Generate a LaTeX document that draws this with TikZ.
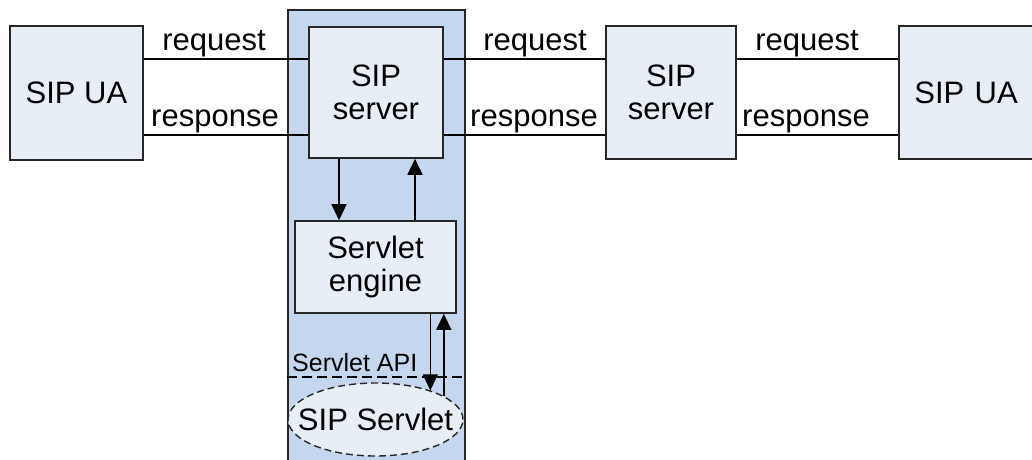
\documentclass[tikz,border=0pt]{standalone}
\usepackage{fontspec}
\setmainfont{Liberation Sans}
\usetikzlibrary{shapes.geometric,arrows.meta}
\definecolor{boxfill}{RGB}{232,238,246}
\definecolor{contfill}{RGB}{197,215,238}
\tikzset{
  box/.style={draw=black!85, line width=1.6pt, fill=boxfill, inner sep=0pt, align=center,
    font=\fontsize{31}{33}\selectfont},
  conn/.style={draw=black, line width=1.6pt},
  arr/.style={conn, -{Triangle[length=16pt,width=15pt]}},
  lbl/.style={font=\fontsize{31}{33}\selectfont, inner sep=0pt, anchor=base},
}
\begin{document}
\begin{tikzpicture}[x=1pt,y=-1pt]
\useasboundingbox (0,0) rectangle (1032,459);
\clip (0,0) rectangle (1032,459);
% container
\node[draw=black!85, line width=1.6pt, fill=contfill, minimum width=177pt, minimum height=480pt, inner sep=0pt, anchor=north west] (cont) at (287,9) {};
% nodes
\node[box, minimum width=133pt, minimum height=134pt] (ua1) at (76.5,93) {SIP UA};
\node[box, minimum width=134pt, minimum height=131pt] (srv1) at (376,92.5) {SIP\\server};
\node[box, minimum width=130pt, minimum height=133pt] (srv2) at (671,92.5) {SIP\\server};
\node[box, minimum width=140pt, minimum height=133pt, text width=133pt] (ua2) at (969,92.5) {\hspace*{-6pt}SIP UA};
\node[box, minimum width=161pt, minimum height=92pt] (eng) at (375.5,267) {Servlet\\engine};
\node[box, shape=ellipse, dashed, dash pattern=on 7pt off 4pt, line width=1.4pt, minimum width=175pt, minimum height=73pt,
  label={[font=\fontsize{31}{33}\selectfont, inner sep=0pt]center:SIP Servlet}] (sv) at (375.5,419.5) {};
% helper coordinates
\coordinate (rq) at (0,59);
\coordinate (rs) at (0,135);
\coordinate (d1) at (339,0);
\coordinate (u1) at (415,0);
% horizontal connectors
\draw[conn] (ua1.east |- rq) -- (srv1.west |- rq);
\draw[conn] (ua1.east |- rs) -- (srv1.west |- rs);
\draw[conn] (srv1.east |- rq) -- (srv2.west |- rq);
\draw[conn] (srv1.east |- rs) -- (srv2.west |- rs);
\draw[conn] (srv2.east |- rq) -- (ua2.west |- rq);
\draw[conn] (srv2.east |- rs) -- (ua2.west |- rs);
% labels
\node[lbl] (l1) at (214,50) {request};
\node[lbl] (l2) at (215,126) {response};
\node[lbl] (l3) at (535,50) {request};
\node[lbl] (l4) at (534,126) {response};
\node[lbl] (l5) at (807,50) {request};
\node[lbl] (l6) at (806,126) {response};
% vertical arrows
\draw[arr] (srv1.south -| d1) -- (eng.north -| d1);
\draw[arr] (eng.north -| u1) -- (srv1.south -| u1);
% Servlet API dashed line
\coordinate (apiL) at (287,377);
\coordinate (apiR) at (464,377);
\draw[conn, line width=1.3pt, dash pattern=on 10pt off 5pt] (apiL) -- (apiR);
\node[font=\fontsize{25}{27}\selectfont, inner sep=0pt, anchor=base west] (api) at (292,371) {Servlet API};
% lower arrows
\draw[arr] (eng.south -| sv.28.5) -- (sv.28.5);
\draw[arr] (sv.19.2) -- (eng.south -| sv.19.2);
\end{tikzpicture}
\end{document}
